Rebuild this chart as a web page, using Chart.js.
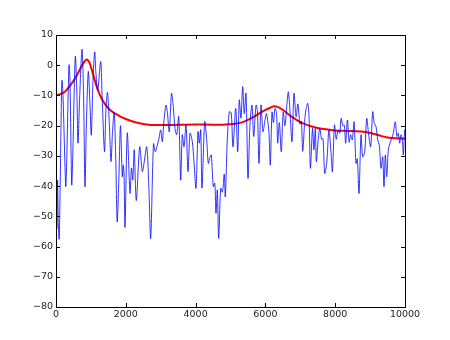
<!DOCTYPE html>
<html>
<head>
<meta charset="utf-8">
<script src="https://cdn.jsdelivr.net/npm/chart.js@4.4.1/dist/chart.umd.min.js"></script>
<style>
	html, body { margin: 0; padding: 0; background: #fff; }
	#wrap { width: 450px; height: 340px; }
</style>
</head>
<body>
<div id="wrap"><canvas id="mycanvas" width="450" height="340"></canvas></div>
<script>
// spectrum (blue)
var freq = [0, 25, 45, 65, 90, 120, 150, 172, 200, 278, 300, 372, 400, 450, 480, 553, 600, 630, 680, 745, 790, 831, 870, 925, 970, 1011, 1060, 1109, 1140, 1195, 1281, 1320, 1390, 1430, 1476, 1530, 1576, 1620, 1668, 1710, 1754, 1800, 1848, 1900, 1928, 1950, 1977, 2043, 2120, 2163, 2200, 2241, 2301, 2398, 2473, 2521, 2599, 2660, 2713, 2794, 2845, 2903, 2943, 3000, 3046, 3095, 3152, 3189, 3246, 3309, 3361, 3410, 3458, 3516, 3573, 3619, 3668, 3725, 3782, 3840, 3905, 3954, 4011, 4069, 4106, 4146, 4183, 4261, 4318, 4364, 4410, 4450, 4507, 4550, 4584, 4622, 4662, 4719, 4770, 4820, 4851, 4908, 4966, 5020, 5072, 5149, 5206, 5252, 5300, 5350, 5395, 5444, 5501, 5560, 5616, 5665, 5731, 5770, 5817, 5874, 5930, 5990, 6030, 6100, 6140, 6190, 6230, 6275, 6320, 6352, 6400, 6455, 6510, 6560, 6610, 6656, 6700, 6762, 6819, 6880, 6930, 6990, 7030, 7070, 7140, 7210, 7250, 7290, 7350, 7390, 7430, 7460, 7510, 7560, 7610, 7650, 7700, 7760, 7820, 7880, 7920, 7980, 8030, 8080, 8130, 8170, 8220, 8260, 8300, 8350, 8400, 8440, 8490, 8540, 8596, 8633, 8682, 8739, 8788, 8845, 8903, 8960, 9017, 9074, 9120, 9169, 9218, 9264, 9312, 9361, 9398, 9436, 9476, 9522, 9570, 9619, 9665, 9722, 9771, 9808, 9848, 9885, 9923, 9951, 9991, 10000];
var spectrum = [-40, -54, -38, -52, -57.5, -40, -15, -5, -10, -40, -35, 0, -5, -39.5, -30, 2.8, -10, -25.8, -10, 5.3, -10, -40.2, -20, -2.1, -12, -23.1, -5, 4.4, -2, -8.2, 1.2, -10, -28.6, -15, -9, -20, -31.9, -22, -15.6, -30, -51.8, -38, -20, -36.9, -33, -36, -53.6, -22.4, -42.3, -34, -38, -28, -44.8, -27, -35.2, -32.5, -27, -40, -57.3, -26, -28.6, -26.4, -24.7, -21.4, -25.3, -18.1, -13.2, -15.4, -22, -9.3, -13.7, -21, -23, -17, -38, -23, -27, -19.8, -35.2, -22.5, -25.3, -31.9, -40.7, -22, -25.8, -21.4, -40.7, -18.7, -24.7, -32.5, -30.5, -29.7, -40.2, -39, -49, -41.3, -57.3, -40.7, -42, -36, -43.5, -24.7, -15.4, -15.8, -27, -14.3, -28.6, -11.5, -17.5, -7.1, -16, -9.3, -37.4, -19, -13.2, -23.6, -13.2, -15, -32.5, -13.2, -22, -18, -16, -22, -33, -15.5, -19, -14.3, -16, -25.8, -19, -28.6, -15.5, -20, -14, -8.8, -14.5, -25.3, -9.3, -17, -12.8, -19.5, -18.5, -28.5, -16.5, -12.6, -17, -34.1, -20.9, -28, -21, -31.9, -25, -20.9, -24.5, -24.3, -35.8, -32, -21.4, -29, -35.2, -19.8, -24.5, -21.4, -22.5, -17.6, -20, -19.8, -25.8, -18.1, -25.5, -23, -24.7, -18.7, -32.5, -31, -42.4, -23.1, -30.3, -28.8, -17.6, -23.1, -27, -15.4, -19.2, -20.3, -24.7, -26.5, -34.1, -30.3, -40.2, -29.7, -36.9, -28, -25.8, -24.2, -22.5, -18.7, -23.6, -22.5, -25.8, -23, -24.7, -29.7, -21.4, -22];

// envelope (red)
var envFreq = [0, 200, 400, 600, 750, 880, 960, 1050, 1150, 1260, 1400, 1550, 1700, 1850, 2000, 2200, 2400, 2600, 2800, 3000, 3500, 4000, 4500, 4800, 5000, 5300, 5500, 5750, 6000, 6150, 6250, 6350, 6500, 6750, 7000, 7250, 7500, 7750, 8000, 8250, 8500, 8750, 9000, 9250, 9500, 9750, 10000];
var envelope = [-9.9, -9.2, -6.8, -3.3, 0, 1.9, 0.8, -2.5, -6.5, -9.9, -12.8, -14.8, -16.0, -17.0, -17.8, -18.6, -19.2, -19.6, -19.8, -19.8, -19.7, -19.6, -19.7, -19.7, -19.5, -19.0, -18.1, -16.5, -14.8, -14.0, -13.6, -13.8, -14.8, -17.0, -18.8, -20.0, -20.8, -21.2, -21.6, -21.7, -21.8, -21.9, -22.4, -23.2, -23.9, -24.2, -24.3];

var xTicks = [0, 2000, 4000, 6000, 8000, 10000];
var yTicks = [-80, -70, -60, -50, -40, -30, -20, -10, 0, 10];

function pairs(xs, ys) {
	var out = [];
	for (var i in xs) {
		out.push({x: xs[i], y: ys[i]});
	}
	return out;
}

// matplotlib style frame + inward ticks on all sides
var frame = {
	id: 'frame',
	afterDraw: function(chart) {
		var c = chart.ctx;
		var a = chart.chartArea;
		var xs = chart.scales.x;
		var ys = chart.scales.y;
		c.save();
		c.strokeStyle = '#000';
		c.lineWidth = 1;
		c.beginPath();
		for (var i in xTicks) {
			var px = Math.round(xs.getPixelForValue(xTicks[i])) + 0.5;
			c.moveTo(px, a.bottom); c.lineTo(px, a.bottom - 4);
			c.moveTo(px, a.top); c.lineTo(px, a.top + 4);
		}
		for (var j in yTicks) {
			var py = Math.round(ys.getPixelForValue(yTicks[j])) + 0.5;
			c.moveTo(a.left, py); c.lineTo(a.left + 4, py);
			c.moveTo(a.right, py); c.lineTo(a.right - 4, py);
		}
		c.stroke();
		c.strokeRect(Math.round(a.left) + 0.5, Math.round(a.top) + 0.5, Math.round(a.right - a.left), Math.round(a.bottom - a.top));
		c.restore();
	}
};

var ctx = document.getElementById('mycanvas');

var chart = new Chart(ctx, {
	type: 'line',
	data: {
		datasets: [
			{
				data: pairs(freq, spectrum),
				borderColor: 'rgba(0, 0, 255, 0.8)',
				borderWidth: 1,
				pointRadius: 0,
				tension: 0.3
			},
			{
				data: pairs(envFreq, envelope),
				borderColor: '#ff0000',
				borderWidth: 2,
				pointRadius: 0,
				cubicInterpolationMode: 'monotone'
			}
		]
	},
	options: {
		responsive: false,
		animation: false,
		layout: { padding: { left: 0, top: 35, right: 45, bottom: 0 } },
		plugins: { legend: { display: false }, tooltip: { enabled: false } },
		scales: {
			x: {
				type: 'linear',
				min: 0,
				max: 10000,
				afterBuildTicks: function(s) { s.ticks = xTicks.map(function(v) { return {value: v}; }); },
				afterFit: function(s) { s.height = 33; },
				grid: { display: false, drawTicks: false },
				border: { display: false },
				ticks: {
					padding: 2,
					maxRotation: 0,
					color: '#222',
					font: { family: 'DejaVu Sans', size: 9.5 },
					callback: function(v) { return String(v); }
				}
			},
			y: {
				min: -80,
				max: 10,
				afterBuildTicks: function(s) { s.ticks = yTicks.map(function(v) { return {value: v}; }); },
				afterFit: function(s) { s.width = 56; },
				grid: { display: false, drawTicks: false },
				border: { display: false },
				ticks: {
					padding: 3,
					color: '#222',
					font: { family: 'DejaVu Sans', size: 9.5 },
					callback: function(v) { return v < 0 ? '\u2212' + Math.abs(v) : String(v); }
				}
			}
		}
	},
	plugins: [frame]
});
</script>
</body>
</html>
